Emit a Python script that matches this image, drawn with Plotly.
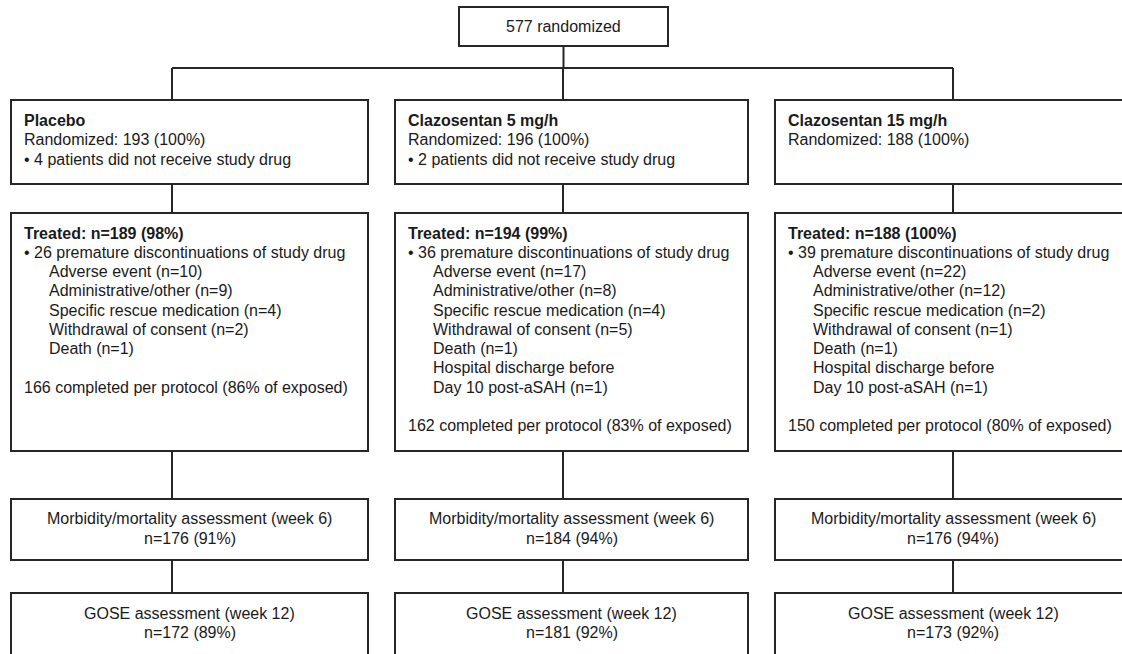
import plotly.graph_objects as go

# ---------------- data ----------------
total_randomized = 577
arms = ["Placebo", "Clazosentan 5 mg/h", "Clazosentan 15 mg/h"]
randomized_n = [193, 196, 188]
randomized_pct = [100, 100, 100]
not_received = [4, 2, None]
treated_n = [189, 194, 188]
treated_pct = [98, 99, 100]
discontinued = [26, 36, 39]
adverse_event = [10, 17, 22]
admin_other = [9, 8, 12]
rescue_med = [4, 4, 2]
withdrawal = [2, 5, 1]
death = [1, 1, 1]
hospital_discharge = [None, 1, 1]
completed_n = [166, 162, 150]
completed_pct = [86, 83, 80]
mm_n = [176, 184, 176]
mm_pct = [91, 94, 94]
gose_n = [172, 181, 173]
gose_pct = [89, 92, 92]

# ---------------- layout geometry (page pixels) ----------------
W, H = 1122, 654
col_left = [11, 395, 775]
col_right = [368, 748, 1140]
col_mid = [189.5, 571.5, 953]
col_conn = [172, 563, 953]
top_box = (459, 668, 7, 46)
branch_y = 68
row1 = (100, 184)
row2 = (213, 451)
row3 = (499, 560)
row4 = (593, 680)
LH = 19.25
FS = 16
FONT = "Liberation Sans, Arial, sans-serif"
LINE_COLOR = "#262626"
TEXT_COLOR = "#1a1a1a"
LW = 2

fig = go.Figure()
fig.add_trace(go.Scatter(x=[0, W], y=[0, H], mode="markers",
                         marker=dict(opacity=0), hoverinfo="skip", showlegend=False))

shapes = []
annotations = []


def rect(x0, x1, y0, y1):
    shapes.append(dict(type="rect", xref="x", yref="y", x0=x0, x1=x1, y0=y0, y1=y1,
                       line=dict(color=LINE_COLOR, width=LW), fillcolor="rgba(0,0,0,0)",
                       layer="above"))


def line(x0, y0, x1, y1):
    shapes.append(dict(type="line", xref="x", yref="y", x0=x0, x1=x1, y0=y0, y1=y1,
                       line=dict(color=LINE_COLOR, width=LW), layer="above"))


def text(x, y, s, anchor="left", bold=False):
    if bold:
        s = "<b>" + s + "</b>"
    annotations.append(dict(x=x, y=y, xref="x", yref="y", text=s, showarrow=False,
                            xanchor=anchor, yanchor="middle",
                            font=dict(family=FONT, size=FS, color=TEXT_COLOR)))


# top box
rect(top_box[0], top_box[1], top_box[2], top_box[3])
text((top_box[0] + top_box[1]) / 2, (top_box[2] + top_box[3]) / 2,
     f"{total_randomized} randomized", anchor="center")
line((top_box[0] + top_box[1]) / 2, top_box[3], (top_box[0] + top_box[1]) / 2, branch_y)
line(col_conn[0], branch_y, col_conn[2], branch_y)

for i in range(3):
    L, R, C = col_left[i], col_right[i], col_conn[i]
    tx = L + 10.5
    sx = L + 36
    mid = col_mid[i]
    # connectors
    line(C, branch_y, C, row1[0])
    line(C, row1[1], C, row2[0])
    line(C, row2[1], C, row3[0])
    line(C, row3[1], C, row4[0])
    # row 1
    rect(L, R, row1[0], row1[1])
    y = row1[0] + 20
    text(tx, y, arms[i], bold=True)
    text(tx, y + 19.5, f"Randomized: {randomized_n[i]} ({randomized_pct[i]}%)")
    if not_received[i]:
        text(tx, y + 39, f"• {not_received[i]} patients did not receive study drug")
    # row 2
    rect(L, R, row2[0], row2[1])
    y = row2[0] + 20
    text(tx, y, f"Treated: n={treated_n[i]} ({treated_pct[i]}%)", bold=True)
    k = 1
    text(tx, y + k * LH, f"• {discontinued[i]} premature discontinuations of study drug"); k += 1
    subs = [f"Adverse event (n={adverse_event[i]})",
            f"Administrative/other (n={admin_other[i]})",
            f"Specific rescue medication (n={rescue_med[i]})",
            f"Withdrawal of consent (n={withdrawal[i]})",
            f"Death (n={death[i]})"]
    if hospital_discharge[i]:
        subs += ["Hospital discharge before", f"Day 10 post-aSAH (n={hospital_discharge[i]})"]
    for s in subs:
        text(sx, y + k * LH, s)
        k += 1
    k += 1
    text(tx, y + k * LH, f"{completed_n[i]} completed per protocol ({completed_pct[i]}% of exposed)")
    # row 3
    rect(L, R, row3[0], row3[1])
    text(mid, row3[0] + 19, "Morbidity/mortality assessment (week 6)", anchor="center")
    text(mid, row3[0] + 39, f"n={mm_n[i]} ({mm_pct[i]}%)", anchor="center")
    # row 4
    rect(L, R, row4[0], row4[1])
    text(mid, row4[0] + 20, "GOSE assessment (week 12)", anchor="center")
    text(mid, row4[0] + 39, f"n={gose_n[i]} ({gose_pct[i]}%)", anchor="center")

fig.update_layout(
    width=W, height=H, autosize=False,
    margin=dict(l=0, r=0, t=0, b=0),
    paper_bgcolor="white", plot_bgcolor="white",
    xaxis=dict(range=[0, W], visible=False, fixedrange=True),
    yaxis=dict(range=[H, 0], visible=False, fixedrange=True),
    shapes=shapes, annotations=annotations, showlegend=False,
    hovermode=False,
)

fig.write_html("out.html", config={"displayModeBar": False, "staticPlot": True},
               post_script="document.body.style.margin='0';document.body.style.overflow='hidden';")
